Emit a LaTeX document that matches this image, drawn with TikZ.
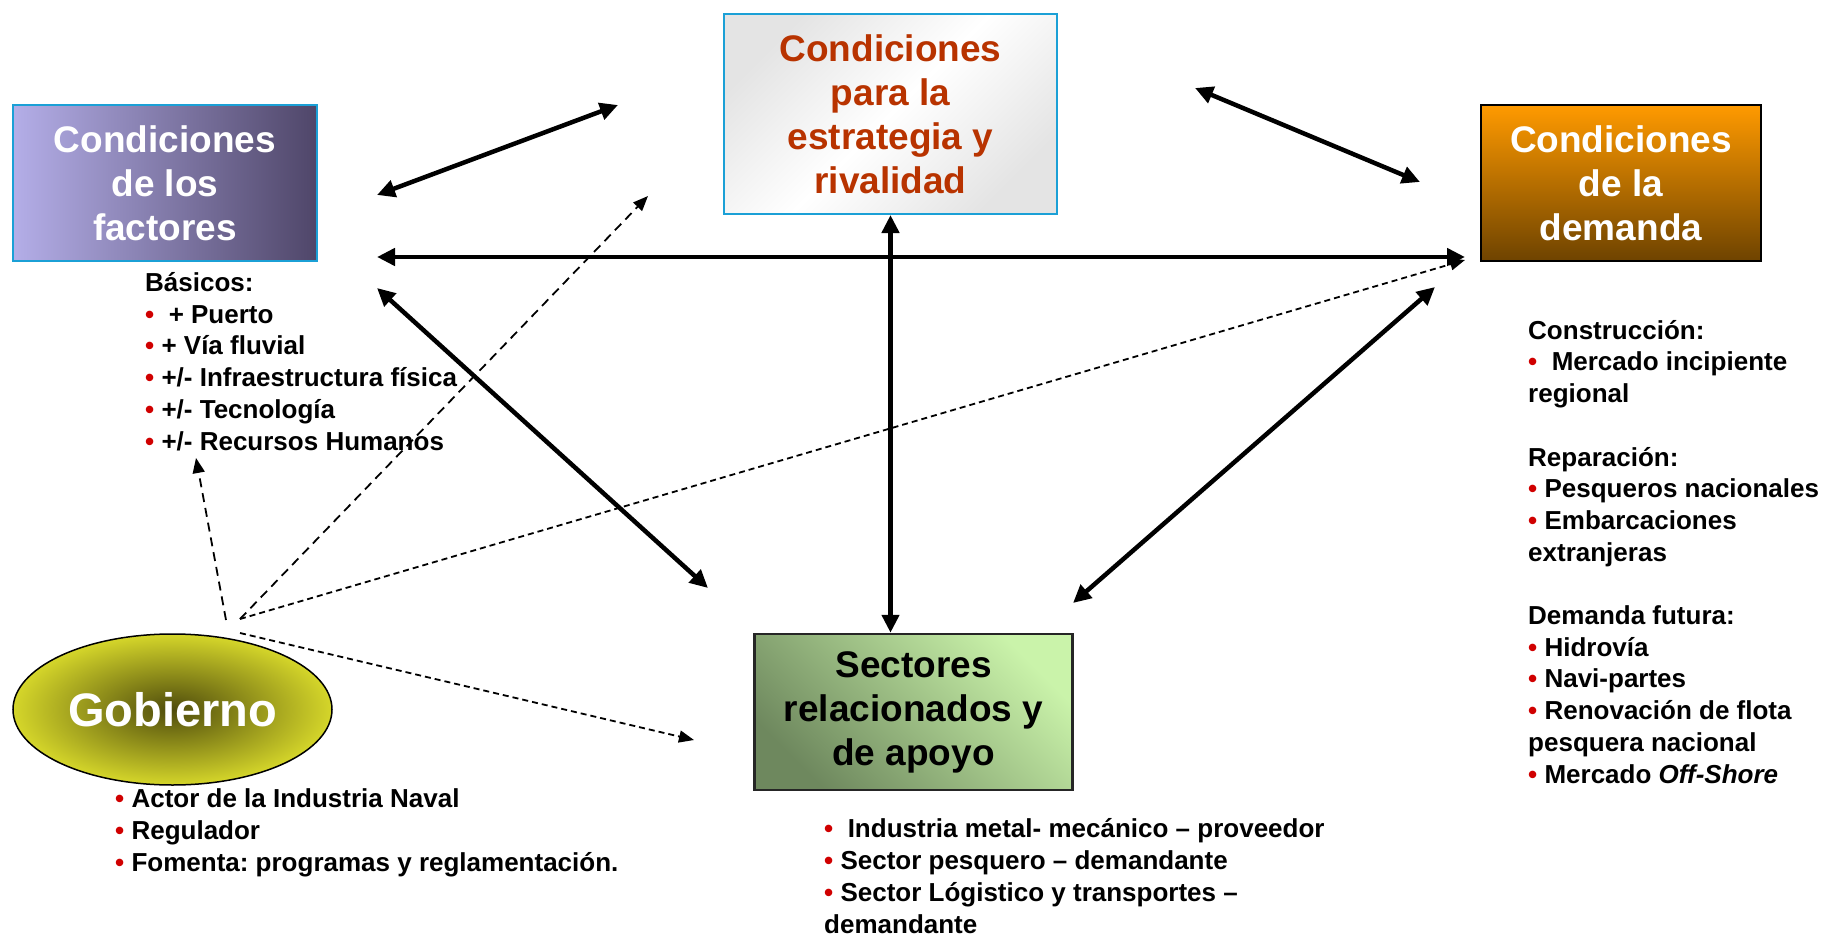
\documentclass[tikz,border=0pt]{standalone}
\usepackage{fontspec}
\setmainfont{Liberation Sans}
\usetikzlibrary{arrows.meta}
\usetikzlibrary{shapes.geometric}
\frenchspacing

\definecolor{cyanB}{HTML}{1BA0D6}
\definecolor{facL}{HTML}{B4AEE8}
\definecolor{facR}{HTML}{4F4669}
\definecolor{strG}{HTML}{E4E4E4}
\definecolor{strRed}{HTML}{B83300}
\definecolor{demTop}{HTML}{FF9A00}
\definecolor{demBot}{HTML}{6E4300}
\definecolor{secL}{HTML}{CAF3AA}
\definecolor{secD}{HTML}{6E885E}
\definecolor{gobDark}{HTML}{4F4C0C}
\definecolor{gobYel}{HTML}{D5D62A}
\definecolor{bulred}{HTML}{D00000}

\newcommand{\bul}{\textcolor{bulred}{\textbullet}}

\begin{document}
\begin{tikzpicture}[x=1pt,y=1pt,yscale=-1,
  ttl/.style={font=\fontsize{37}{44}\selectfont\bfseries, align=center, inner sep=0pt},
  lst/.style={font=\fontsize{26}{31.7}\selectfont\bfseries, align=left, inner sep=0pt, anchor=base west},
  bi/.style={line width=4.5pt, {Triangle[length=18pt,width=17pt]}-{Triangle[length=18pt,width=17pt]}},
  govdash/.style={line width=1.8pt, dash pattern=on 9pt off 6pt, -{Triangle[length=15pt,width=12pt]}},
  govdot/.style={line width=1.8pt, dash pattern=on 6pt off 4pt, -{Triangle[length=15pt,width=12pt]}}]
\useasboundingbox (0,0) rectangle (1828,936);

%Shape: Rectangle
\node[ttl, draw=cyanB, line width=2pt, left color=facL, right color=facR, text=white, minimum width=304pt, minimum height=156pt] (fac) at (165,183) {Condiciones\\de los\\factores};
%Shape: Rectangle
\node[ttl, draw=cyanB, line width=2pt, top color=strG, bottom color=strG, middle color=white, shading angle=45, text=strRed, minimum width=333pt, minimum height=200pt] (str) at (890.5,114) {Condiciones\\para la\\estrategia y\\rivalidad};
%Shape: Rectangle
\node[ttl, draw=black, line width=1.5pt, top color=demTop, bottom color=demBot, text=white, minimum width=280pt, minimum height=156pt] (dem) at (1621,183) {Condiciones\\de la\\demanda};
%Shape: Rectangle
\node[ttl, draw=black!85, line width=2.5pt, top color=secL, bottom color=secD, shading angle=-45, text=black, minimum width=318pt, minimum height=156pt] (sec) at (913.5,712) {Sectores\\relacionados y\\de apoyo};
%Shape: Ellipse
\node[ellipse, draw=black, line width=1.5pt, inner color=gobDark, outer color=gobYel, text=white, font=\fontsize{47}{50}\selectfont\bfseries, inner sep=0pt, minimum width=319pt, minimum height=151pt] (gob) at (172.5,709.5) {Gobierno};

% Text Node
\node[lst] (facTxt) at (145,450) {Básicos:\\\bul\ \ + Puerto\\\bul\ + Vía fluvial\\\bul\ +/- Infraestructura física\\\bul\ +/- Tecnología\\\bul\ +/- Recursos Humanos};
% Text Node
\node[lst] (demTxt) at (1528,783) {Construcción:\\\bul\ \ Mercado incipiente\\regional\\[31.7pt]Reparación:\\\bul\ Pesqueros nacionales\\\bul\ Embarcaciones\\extranjeras\\[31.7pt]Demanda futura:\\\bul\ Hidrovía\\\bul\ Navi-partes\\\bul\ Renovación de flota\\pesquera nacional\\\bul\ Mercado \textit{Off-Shore}};
% Text Node
\node[lst] (gobTxt) at (115,871) {\bul\ Actor de la Industria Naval\\\bul\ Regulador\\\bul\ Fomenta: programas y reglamentación.};
% Text Node
\node[lst] (secTxt) at (824,933) {\bul\ \ Industria metal- mecánico – proveedor\\\bul\ Sector pesquero – demandante\\\bul\ Sector Lógistico y transportes –\\demandante};

% arrow ends
\coordinate (fs1) at (377,195); \coordinate (fs2) at (618,105);
\coordinate (sd1) at (1195,88); \coordinate (sd2) at (1420,182);
\coordinate (fd1) at (377,257); \coordinate (fd2) at (1465,257);
\coordinate (fc1) at (377,288); \coordinate (fc2) at (708,588);
\coordinate (dc1) at (1435,287); \coordinate (dc2) at (1073,603);
\coordinate (g1) at (226,620); \coordinate (g2) at (240,619); \coordinate (g3) at (240,633);
\coordinate (gf) at (196,458); \coordinate (gs) at (648,196);
\coordinate (gd) at (1465,260); \coordinate (gc) at (694,740);

%Straight Lines
\draw[bi] (fs1) -- (fs2);
\draw[bi] (sd1) -- (sd2);
\draw[bi] (fd1) -- (fd2);
\draw[bi] (fc1) -- (fc2);
\draw[bi] (dc1) -- (dc2);
\draw[bi] (str.south) -- (str.south |- sec.north);
%Dashed Lines
\draw[govdash] (g1) -- (gf);
\draw[govdash] (g2) -- (gs);
\draw[govdot] (g2) -- (gd);
\draw[govdot] (g3) -- (gc);

\end{tikzpicture}
\end{document}
